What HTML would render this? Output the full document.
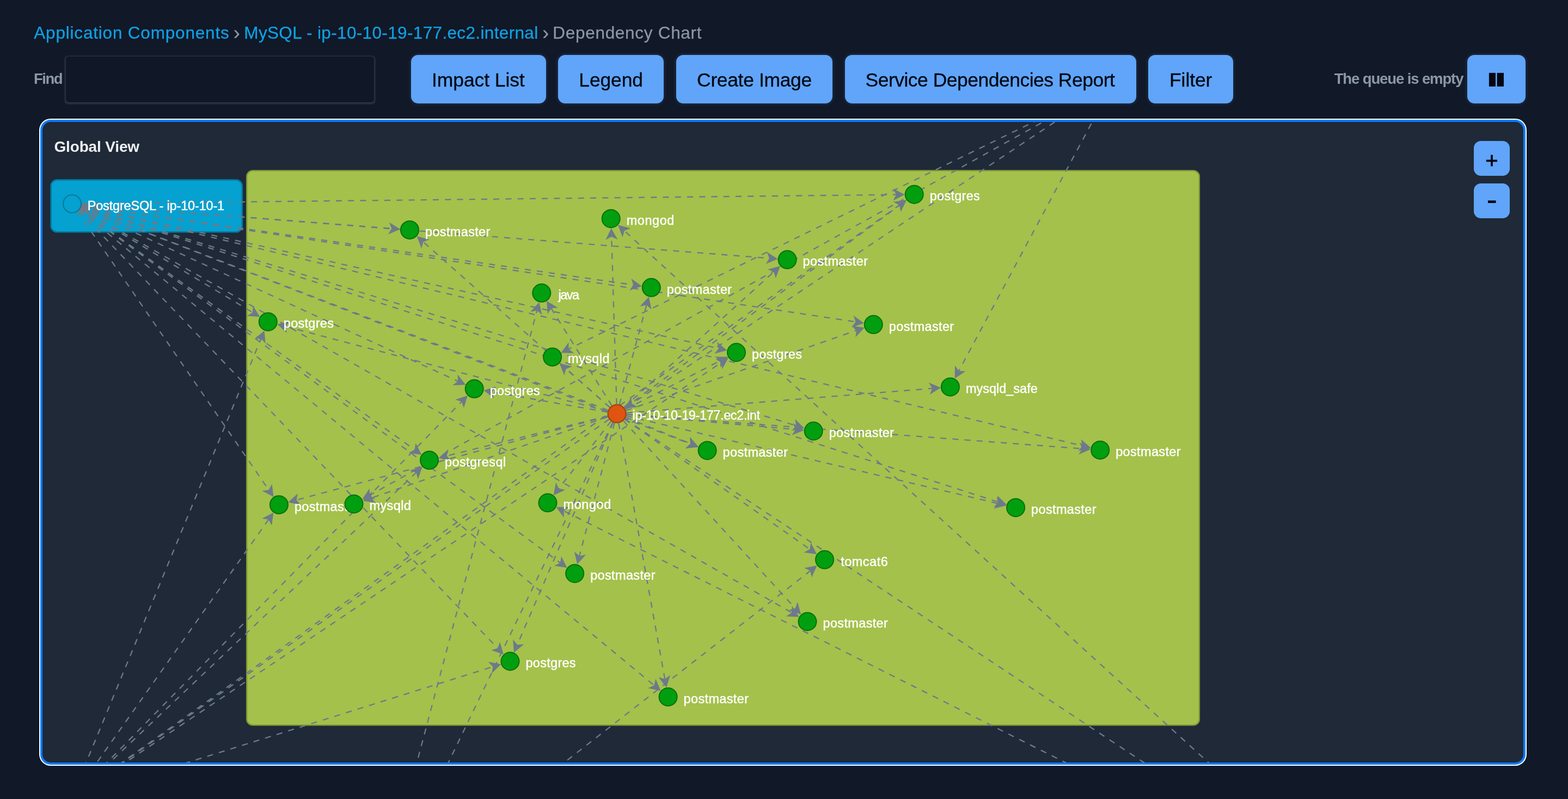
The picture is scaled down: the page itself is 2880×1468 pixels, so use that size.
<!DOCTYPE html>
<html lang="en"><head><meta charset="utf-8"><title>Dependency Chart</title>
<style>
html,body{margin:0;padding:0;}
body{width:2880px;height:1468px;background:#111827;overflow:hidden;position:relative;font-family:'Liberation Sans', sans-serif;}
#wrap{position:absolute;left:0;top:0;width:2880px;height:1468px;will-change:transform;}
.t{position:absolute;white-space:pre;line-height:1;margin:0;padding:0;display:block;text-decoration:none;font-weight:400;}
button{border:0;margin:0;padding:0;font:inherit;cursor:pointer;display:block;overflow:visible;}
input{border:0;margin:0;padding:0 12px;outline:0;font:inherit;color:#e5e7eb;box-sizing:border-box;display:block;}
.btn{position:absolute;background:#60a5fa;border-radius:13px;box-shadow:0 0 6px 1px rgba(96,165,250,0.2);}
#find{position:absolute;left:121px;top:104px;width:565.5px;height:83.6px;border-radius:5px;background:#101726;box-shadow:0 1px 3.5px 1.2px rgba(108,118,135,0.36);}
#panel{position:absolute;left:72px;top:218px;width:2732px;height:1189px;box-sizing:border-box;border-radius:21px;background:#ffffff;}
#panel .ring{position:absolute;left:2px;top:2px;right:2px;bottom:2px;border-radius:19px;background:#0a7cff;}
#panel .inner{position:absolute;left:6px;top:6px;right:6px;bottom:6px;border-radius:15px;background:#1f2937;overflow:hidden;}
.zb{position:absolute;left:2706.7px;width:66.4px;height:64px;background:#60a5fa;border-radius:13px;}
</style></head><body><div id="wrap">

<nav aria-label="Breadcrumb">
<a class="t" style="left:62.28px;top:45.00px;font-size:31.5px;font-weight:400;color:#0ea2e6;letter-spacing:0.808px;-webkit-text-stroke:0.25px #0ea2e6;">Application Components</a>
<span class="t" style="left:428.40px;top:42.00px;font-size:37px;font-weight:400;color:#8b98a5;letter-spacing:0.000px;-webkit-text-stroke:0.2px #8b98a5;">›</span>
<a class="t" style="left:448.30px;top:45.00px;font-size:31.5px;font-weight:400;color:#0ea2e6;letter-spacing:0.352px;-webkit-text-stroke:0.25px #0ea2e6;">MySQL - ip-10-10-19-177.ec2.internal</a>
<span class="t" style="left:996.00px;top:42.00px;font-size:37px;font-weight:400;color:#8b98a5;letter-spacing:0.000px;-webkit-text-stroke:0.2px #8b98a5;">›</span>
<span class="t" style="left:1015.30px;top:45.00px;font-size:31.5px;font-weight:400;color:#8b98a5;letter-spacing:0.705px;-webkit-text-stroke:0.25px #8b98a5;">Dependency Chart</span>
</nav>
<label class="t" for="find" style="left:61.96px;top:131.00px;font-size:27.5px;font-weight:700;color:#8b98a5;letter-spacing:-1.484px;">Find</label>
<input id="find" type="text" autocomplete="off">
<span class="t" style="left:2450.67px;top:131.00px;font-size:27.5px;font-weight:700;color:#8b98a5;letter-spacing:-1.113px;">The queue is empty</span>
<button type="button" class="btn" style="left:755.1px;top:101.1px;width:248.1px;height:88.9px"><span class="t" style="left:38.03px;top:28.90px;font-size:35.5px;font-weight:400;color:#030712;letter-spacing:-0.107px;-webkit-text-stroke:0.3px #030712;">Impact List</span></button>
<button type="button" class="btn" style="left:1024.9px;top:101.1px;width:194.1px;height:88.9px"><span class="t" style="left:38.42px;top:28.90px;font-size:35.5px;font-weight:400;color:#030712;letter-spacing:-0.147px;-webkit-text-stroke:0.3px #030712;">Legend</span></button>
<button type="button" class="btn" style="left:1241.9px;top:101.1px;width:287.1px;height:88.9px"><span class="t" style="left:38.23px;top:28.90px;font-size:35.5px;font-weight:400;color:#030712;letter-spacing:-0.358px;-webkit-text-stroke:0.3px #030712;">Create Image</span></button>
<button type="button" class="btn" style="left:1552.1px;top:101.1px;width:535.0px;height:88.9px"><span class="t" style="left:37.40px;top:28.90px;font-size:35.5px;font-weight:400;color:#030712;letter-spacing:-0.509px;-webkit-text-stroke:0.3px #030712;">Service Dependencies Report</span></button>
<button type="button" class="btn" style="left:2109.3px;top:101.1px;width:155.6px;height:88.9px"><span class="t" style="left:38.72px;top:28.90px;font-size:35.5px;font-weight:400;color:#030712;letter-spacing:-0.098px;-webkit-text-stroke:0.3px #030712;">Filter</span></button>
<button type="button" class="btn" aria-label="Pause" style="left:2695.1px;top:101.1px;width:106.9px;height:88.9px"><svg width="107" height="89" style="position:absolute;left:0;top:0"><rect x="39.9" y="32.9" width="12.1" height="25" fill="#030712"/><rect x="54.6" y="32.9" width="12.4" height="25" fill="#030712"/></svg></button>
<div id="panel"><div class="ring"></div><div class="inner"><svg width="2720" height="1177" viewBox="78 224 2720 1177" style="position:absolute;left:0;top:0;font-family:'Liberation Sans', sans-serif"><rect x="453.2" y="313.4" width="1749.7" height="1019.0" rx="11" ry="11" fill="#a4c14b" stroke="#7f9636" stroke-width="2.4"/><rect x="93.6" y="330.5" width="351.2" height="95.7" rx="11" ry="11" fill="#04a1d1" stroke="#05799d" stroke-width="2.6"/><g stroke="#6c7a89" stroke-width="2.3" stroke-dasharray="11.1 11.14" fill="none"><line x1="1120.0" y1="748.5" x2="777.4" y2="444.5"/><line x1="1132.6" y1="742.6" x2="1123.2" y2="435.0"/><line x1="1147.2" y1="749.7" x2="1652.4" y2="377.0"/><line x1="1146.1" y1="748.4" x2="1421.4" y2="499.4"/><line x1="1137.7" y1="743.2" x2="1187.5" y2="560.4"/><line x1="1123.8" y1="745.3" x2="1012.4" y2="566.6"/><line x1="1116.2" y1="755.6" x2="524.5" y2="599.7"/><line x1="1149.6" y1="754.4" x2="1572.8" y2="607.2"/><line x1="1120.0" y1="748.5" x2="1039.6" y2="677.9"/><line x1="1148.7" y1="752.1" x2="1322.9" y2="662.7"/><line x1="1115.9" y1="757.1" x2="904.0" y2="720.0"/><line x1="1150.5" y1="758.7" x2="1712.2" y2="713.6"/><line x1="1150.5" y1="761.6" x2="1461.0" y2="789.1"/><line x1="1149.3" y1="766.7" x2="1268.3" y2="815.1"/><line x1="1150.6" y1="761.4" x2="1987.5" y2="824.4"/><line x1="1116.1" y1="764.3" x2="820.8" y2="837.6"/><line x1="1116.2" y1="764.7" x2="544.6" y2="918.7"/><line x1="1116.5" y1="765.8" x2="681.5" y2="915.2"/><line x1="1122.4" y1="773.9" x2="1026.4" y2="897.5"/><line x1="1150.1" y1="764.1" x2="1833.2" y2="925.1"/><line x1="1147.4" y1="770.2" x2="1487.4" y2="1009.1"/><line x1="1128.6" y1="777.0" x2="1064.2" y2="1021.5"/><line x1="1144.9" y1="773.0" x2="1460.5" y2="1117.4"/><line x1="1126.2" y1="776.2" x2="950.2" y2="1184.4"/><line x1="1136.2" y1="777.3" x2="1221.2" y2="1247.6"/><line x1="1116.8" y1="753.8" x2="163.6" y2="386.4"/><line x1="1118.8" y1="770.2" x2="157.8" y2="1448.8"/><line x1="1147.7" y1="769.8" x2="2525.7" y2="1682.1"/><line x1="1125.5" y1="775.9" x2="709.5" y2="1637.1"/><line x1="149.9" y1="375.8" x2="719.3" y2="419.8"/><line x1="150.0" y1="374.2" x2="1645.9" y2="357.6"/><line x1="149.9" y1="375.8" x2="1412.9" y2="474.5"/><line x1="149.8" y1="376.9" x2="1163.3" y2="523.5"/><line x1="147.5" y1="383.4" x2="463.8" y2="574.0"/><line x1="149.8" y1="377.0" x2="1571.4" y2="591.3"/><line x1="149.6" y1="378.2" x2="1320.0" y2="640.2"/><line x1="148.4" y1="381.7" x2="840.9" y2="700.4"/><line x1="149.2" y1="379.5" x2="1462.4" y2="782.2"/><line x1="148.8" y1="380.7" x2="1268.1" y2="815.6"/><line x1="149.5" y1="378.5" x2="1988.3" y2="819.1"/><line x1="146.7" y1="384.6" x2="761.5" y2="826.2"/><line x1="142.4" y1="388.8" x2="493.5" y2="900.0"/><line x1="149.2" y1="379.8" x2="1833.9" y2="922.5"/><line x1="146.6" y1="384.8" x2="1028.9" y2="1034.0"/><line x1="147.7" y1="383.0" x2="1454.0" y2="1125.5"/><line x1="144.6" y1="387.0" x2="914.0" y2="1190.9"/><line x1="146.0" y1="385.6" x2="1201.4" y2="1259.2"/><line x1="2028.6" y1="160.6" x2="1044.5" y2="641.3"/><line x1="2029.0" y1="161.4" x2="679.1" y2="909.9"/><line x1="2036.0" y1="168.3" x2="1761.1" y2="681.5"/><line x1="2029.7" y1="162.6" x2="1160.8" y2="741.6"/><line x1="2538.6" y1="1691.5" x2="1146.8" y2="424.1"/><line x1="2537.9" y1="1692.6" x2="1035.8" y2="938.7"/><line x1="699.5" y1="1650.2" x2="986.3" y2="570.5"/><line x1="708.8" y1="1656.3" x2="1488.3" y2="1048.8"/><line x1="144.8" y1="1457.8" x2="1652.1" y2="376.6"/><line x1="137.3" y1="1451.8" x2="479.6" y2="622.0"/><line x1="145.1" y1="1458.2" x2="1324.9" y2="666.1"/><line x1="142.9" y1="1455.5" x2="847.9" y2="738.1"/><line x1="143.3" y1="1456.0" x2="764.3" y2="868.5"/><line x1="140.7" y1="1453.7" x2="493.2" y2="954.6"/><line x1="147.3" y1="1462.8" x2="905.2" y2="1225.0"/></g><g fill="#6c7a89"><polygon points="765.6,434.0 788.7,439.9 777.4,444.5 774.1,456.3"/><polygon points="1122.7,419.2 1134.4,440.0 1123.2,435.0 1112.4,440.7"/><polygon points="1665.1,367.6 1654.6,389.0 1652.4,377.0 1641.5,371.3"/><polygon points="1433.1,488.8 1424.8,511.2 1421.4,499.4 1410.0,494.9"/><polygon points="1191.7,545.2 1196.7,568.5 1187.5,560.4 1175.5,562.7"/><polygon points="1004.1,553.1 1024.6,565.3 1012.4,566.6 1005.9,577.0"/><polygon points="509.2,595.7 532.5,590.4 524.5,599.7 526.9,611.7"/><polygon points="1587.8,602.0 1571.4,619.4 1572.8,607.2 1564.1,598.6"/><polygon points="1027.7,667.5 1050.9,673.2 1039.6,677.9 1036.4,689.7"/><polygon points="1336.9,655.5 1323.1,675.0 1322.9,662.7 1313.0,655.4"/><polygon points="888.4,717.3 911.2,710.1 904.0,720.0 907.4,731.8"/><polygon points="1728.0,712.3 1707.7,725.0 1712.2,713.6 1705.9,703.0"/><polygon points="1476.8,790.5 1454.7,799.6 1461.0,789.1 1456.6,777.6"/><polygon points="1282.9,821.1 1259.1,823.3 1268.3,815.1 1267.4,802.9"/><polygon points="2003.2,825.6 1981.3,835.0 1987.5,824.4 1982.9,813.0"/><polygon points="805.5,841.4 823.4,825.6 820.8,837.6 828.7,847.0"/><polygon points="529.3,922.8 546.9,906.7 544.6,918.7 552.6,927.9"/><polygon points="666.6,920.3 683.0,903.0 681.5,915.2 690.2,923.8"/><polygon points="1016.7,910.0 1021.0,886.5 1026.4,897.5 1038.4,900.0"/><polygon points="1848.6,928.7 1825.4,934.5 1833.2,925.1 1830.5,913.1"/><polygon points="1500.3,1018.2 1476.6,1015.0 1487.4,1009.1 1489.3,997.0"/><polygon points="1060.2,1036.8 1054.9,1013.5 1064.2,1021.5 1076.2,1019.1"/><polygon points="1471.2,1129.1 1448.7,1120.9 1460.5,1117.4 1465.0,1106.0"/><polygon points="943.9,1198.9 942.2,1175.1 950.2,1184.4 962.4,1183.8"/><polygon points="1224.0,1263.2 1209.4,1244.3 1221.2,1247.6 1231.0,1240.4"/><polygon points="148.8,380.7 172.6,378.1 163.6,386.4 164.7,398.6"/><polygon points="144.9,1457.9 155.9,1436.7 157.8,1448.8 168.6,1454.7"/><polygon points="2538.9,1690.8 2515.2,1688.3 2525.7,1682.1 2527.3,1670.0"/><polygon points="702.6,1651.3 701.9,1627.5 709.5,1637.1 721.7,1637.0"/><polygon points="735.1,421.0 713.1,430.4 719.3,419.8 714.8,408.4"/><polygon points="1661.7,357.4 1640.6,368.6 1645.9,357.6 1640.4,346.6"/><polygon points="1428.7,475.7 1406.7,485.1 1412.9,474.5 1408.4,463.1"/><polygon points="1179.0,525.8 1156.4,533.6 1163.3,523.5 1159.6,511.9"/><polygon points="477.3,582.2 453.5,580.6 463.8,574.0 464.8,561.8"/><polygon points="1587.0,593.7 1564.4,601.4 1571.4,591.3 1567.7,579.7"/><polygon points="1335.4,643.7 1312.3,649.8 1320.0,640.2 1317.1,628.3"/><polygon points="855.3,707.0 831.4,708.1 840.9,700.4 840.6,688.1"/><polygon points="1477.5,786.9 1454.0,791.2 1462.4,782.2 1460.4,770.1"/><polygon points="1282.8,821.4 1259.0,823.9 1268.1,815.6 1267.0,803.4"/><polygon points="2003.7,822.8 1980.5,828.6 1988.3,819.1 1985.6,807.2"/><polygon points="774.3,835.4 750.7,832.0 761.5,826.2 763.5,814.1"/><polygon points="502.5,913.0 481.4,901.7 493.5,900.0 499.6,889.3"/><polygon points="1848.9,927.3 1825.4,931.3 1833.9,922.5 1832.1,910.4"/><polygon points="1041.6,1043.3 1018.0,1039.6 1028.9,1034.0 1031.0,1021.9"/><polygon points="1467.8,1133.4 1443.9,1132.4 1454.0,1125.5 1454.8,1113.3"/><polygon points="924.9,1202.4 902.3,1194.6 914.0,1190.9 918.2,1179.4"/><polygon points="1213.6,1269.2 1190.3,1264.2 1201.4,1259.2 1204.3,1247.3"/><polygon points="1030.3,648.2 1044.5,629.0 1044.5,641.3 1054.2,648.8"/><polygon points="665.3,917.5 678.5,897.6 679.1,909.9 689.2,916.9"/><polygon points="1753.7,695.5 1754.0,671.6 1761.1,681.5 1773.4,682.0"/><polygon points="1147.7,750.4 1159.2,729.5 1160.8,741.6 1171.4,747.8"/><polygon points="1135.1,413.5 1158.2,419.6 1146.8,424.1 1143.4,435.9"/><polygon points="1021.6,931.7 1045.5,931.3 1035.8,938.7 1035.7,951.0"/><polygon points="990.3,555.2 995.5,578.5 986.3,570.5 974.2,572.9"/><polygon points="1500.8,1039.1 1490.8,1060.8 1488.3,1048.8 1477.3,1043.4"/><polygon points="1665.0,367.4 1654.2,388.7 1652.1,376.6 1641.3,370.8"/><polygon points="485.6,607.4 487.7,631.2 479.6,622.0 467.4,622.8"/><polygon points="1338.0,657.3 1326.5,678.2 1324.9,666.1 1314.2,659.9"/><polygon points="858.9,726.8 851.9,749.6 847.9,738.1 836.2,734.2"/><polygon points="775.8,857.6 767.9,880.2 764.3,868.5 752.8,864.2"/><polygon points="502.3,941.7 499.1,965.4 493.2,954.6 481.1,952.7"/><polygon points="920.3,1220.2 903.4,1237.1 905.2,1225.0 896.8,1216.1"/></g><circle cx="132.5" cy="374.4" r="16.5" fill="#04a1d1" stroke="#067897" stroke-width="2"/><text x="160.7" y="385.6" font-size="23.5" fill="#ffffff" stroke="#ffffff" stroke-width="0.45" letter-spacing="-0.168">PostgreSQL - ip-10-10-1</text><circle cx="752.5" cy="422.4" r="16.5" fill="#019f0f" stroke="#037108" stroke-width="2"/><text x="781.0" y="433.6" font-size="23.5" fill="#ffffff" stroke="#ffffff" stroke-width="0.45" letter-spacing="0.347">postmaster</text><circle cx="1122.2" cy="401.7" r="16.5" fill="#019f0f" stroke="#037108" stroke-width="2"/><text x="1150.7" y="412.9" font-size="23.5" fill="#ffffff" stroke="#ffffff" stroke-width="0.45" letter-spacing="0.563">mongod</text><circle cx="1679.2" cy="357.2" r="16.5" fill="#019f0f" stroke="#037108" stroke-width="2"/><text x="1707.7" y="368.4" font-size="23.5" fill="#ffffff" stroke="#ffffff" stroke-width="0.45" letter-spacing="0.281">postgres</text><circle cx="1446.1" cy="477.1" r="16.5" fill="#019f0f" stroke="#037108" stroke-width="2"/><text x="1474.6" y="488.3" font-size="23.5" fill="#ffffff" stroke="#ffffff" stroke-width="0.45" letter-spacing="0.347">postmaster</text><circle cx="1196.3" cy="528.3" r="16.5" fill="#019f0f" stroke="#037108" stroke-width="2"/><text x="1224.8" y="539.5" font-size="23.5" fill="#ffffff" stroke="#ffffff" stroke-width="0.45" letter-spacing="0.347">postmaster</text><circle cx="994.8" cy="538.3" r="16.5" fill="#019f0f" stroke="#037108" stroke-width="2"/><text x="1025.4" y="549.5" font-size="23.5" fill="#ffffff" stroke="#ffffff" stroke-width="0.45" letter-spacing="-1.459">java</text><circle cx="492.3" cy="591.2" r="16.5" fill="#019f0f" stroke="#037108" stroke-width="2"/><text x="520.8" y="602.4" font-size="23.5" fill="#ffffff" stroke="#ffffff" stroke-width="0.45" letter-spacing="0.281">postgres</text><circle cx="1604.3" cy="596.3" r="16.5" fill="#019f0f" stroke="#037108" stroke-width="2"/><text x="1632.8" y="607.5" font-size="23.5" fill="#ffffff" stroke="#ffffff" stroke-width="0.45" letter-spacing="0.347">postmaster</text><circle cx="1014.6" cy="655.9" r="16.5" fill="#019f0f" stroke="#037108" stroke-width="2"/><text x="1043.1" y="667.1" font-size="23.5" fill="#ffffff" stroke="#ffffff" stroke-width="0.45" letter-spacing="0.384">mysqld</text><circle cx="1352.5" cy="647.5" r="16.5" fill="#019f0f" stroke="#037108" stroke-width="2"/><text x="1381.0" y="658.7" font-size="23.5" fill="#ffffff" stroke="#ffffff" stroke-width="0.45" letter-spacing="0.281">postgres</text><circle cx="871.2" cy="714.3" r="16.5" fill="#019f0f" stroke="#037108" stroke-width="2"/><text x="899.7" y="725.5" font-size="23.5" fill="#ffffff" stroke="#ffffff" stroke-width="0.45" letter-spacing="0.281">postgres</text><circle cx="1745.4" cy="710.9" r="16.5" fill="#019f0f" stroke="#037108" stroke-width="2"/><text x="1773.9" y="722.1" font-size="23.5" fill="#ffffff" stroke="#ffffff" stroke-width="0.45" letter-spacing="-0.007">mysqld_safe</text><circle cx="1133.1" cy="760.1" r="16.5" fill="#de5410" stroke="#a33d0d" stroke-width="2"/><text x="1161.6" y="771.3" font-size="23.5" fill="#ffffff" stroke="#ffffff" stroke-width="0.45" letter-spacing="-0.385">ip-10-10-19-177.ec2.int</text><circle cx="1494.2" cy="792.0" r="16.5" fill="#019f0f" stroke="#037108" stroke-width="2"/><text x="1522.7" y="803.2" font-size="23.5" fill="#ffffff" stroke="#ffffff" stroke-width="0.45" letter-spacing="0.347">postmaster</text><circle cx="1299.1" cy="827.7" r="16.5" fill="#019f0f" stroke="#037108" stroke-width="2"/><text x="1327.6" y="838.9" font-size="23.5" fill="#ffffff" stroke="#ffffff" stroke-width="0.45" letter-spacing="0.347">postmaster</text><circle cx="2020.7" cy="826.9" r="16.5" fill="#019f0f" stroke="#037108" stroke-width="2"/><text x="2049.2" y="838.1" font-size="23.5" fill="#ffffff" stroke="#ffffff" stroke-width="0.45" letter-spacing="0.347">postmaster</text><circle cx="788.5" cy="845.6" r="16.5" fill="#019f0f" stroke="#037108" stroke-width="2"/><text x="817.0" y="856.8" font-size="23.5" fill="#ffffff" stroke="#ffffff" stroke-width="0.45" letter-spacing="0.406">postgresql</text><circle cx="512.4" cy="927.4" r="16.5" fill="#019f0f" stroke="#037108" stroke-width="2"/><text x="540.9" y="938.6" font-size="23.5" fill="#ffffff" stroke="#ffffff" stroke-width="0.45" letter-spacing="0.347">postmaster</text><circle cx="650.0" cy="926.0" r="16.5" fill="#019f0f" stroke="#037108" stroke-width="2"/><text x="678.5" y="937.2" font-size="23.5" fill="#ffffff" stroke="#ffffff" stroke-width="0.45" letter-spacing="0.384">mysqld</text><circle cx="1006.0" cy="923.8" r="16.5" fill="#019f0f" stroke="#037108" stroke-width="2"/><text x="1034.5" y="935.0" font-size="23.5" fill="#ffffff" stroke="#ffffff" stroke-width="0.45" letter-spacing="0.563">mongod</text><circle cx="1865.6" cy="932.7" r="16.5" fill="#019f0f" stroke="#037108" stroke-width="2"/><text x="1894.1" y="943.9" font-size="23.5" fill="#ffffff" stroke="#ffffff" stroke-width="0.45" letter-spacing="0.347">postmaster</text><circle cx="1514.6" cy="1028.3" r="16.5" fill="#019f0f" stroke="#037108" stroke-width="2"/><text x="1544.2" y="1039.5" font-size="23.5" fill="#ffffff" stroke="#ffffff" stroke-width="0.45" letter-spacing="0.496">tomcat6</text><circle cx="1055.7" cy="1053.7" r="16.5" fill="#019f0f" stroke="#037108" stroke-width="2"/><text x="1084.2" y="1064.9" font-size="23.5" fill="#ffffff" stroke="#ffffff" stroke-width="0.45" letter-spacing="0.347">postmaster</text><circle cx="1483.0" cy="1142.0" r="16.5" fill="#019f0f" stroke="#037108" stroke-width="2"/><text x="1511.5" y="1153.2" font-size="23.5" fill="#ffffff" stroke="#ffffff" stroke-width="0.45" letter-spacing="0.347">postmaster</text><circle cx="937.0" cy="1215.0" r="16.5" fill="#019f0f" stroke="#037108" stroke-width="2"/><text x="965.5" y="1226.2" font-size="23.5" fill="#ffffff" stroke="#ffffff" stroke-width="0.45" letter-spacing="0.281">postgres</text><circle cx="1227.1" cy="1280.4" r="16.5" fill="#019f0f" stroke="#037108" stroke-width="2"/><text x="1255.6" y="1291.6" font-size="23.5" fill="#ffffff" stroke="#ffffff" stroke-width="0.45" letter-spacing="0.347">postmaster</text></svg></div></div>
<button type="button" class="zb" style="top:258.9px"><span class="t" style="left:21.61px;top:15.80px;font-size:40px;color:#030712;-webkit-text-stroke:0.8px #030712;">+</span></button>
<button type="button" class="zb" style="top:336.9px"><span class="t" style="left:23.51px;top:-1.38px;font-size:60px;color:#030712;">-</span></button>
<h2 class="t" style="left:99.48px;top:256.00px;font-size:28px;font-weight:700;color:#eef0f3;letter-spacing:-0.158px;">Global View</h2>
</div></body></html>
